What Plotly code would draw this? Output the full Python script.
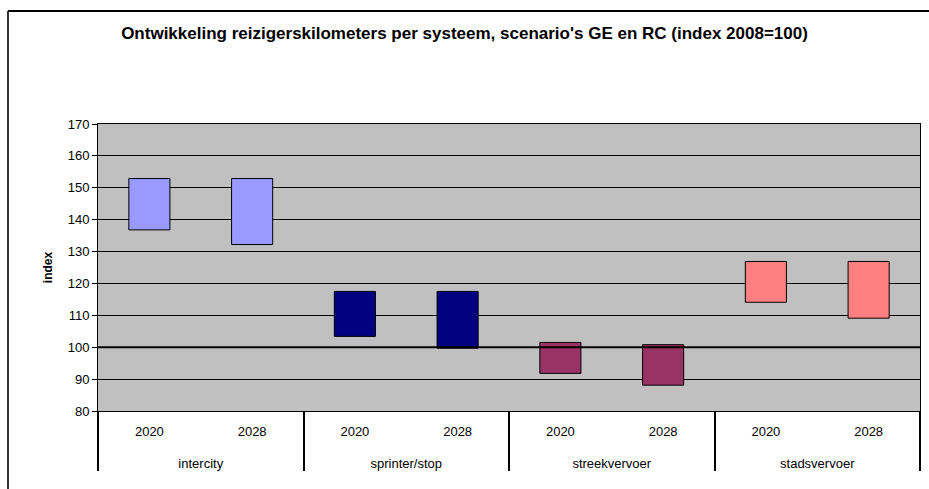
import plotly.graph_objects as go

systems = ["intercity", "intercity", "sprinter/stop", "sprinter/stop",
           "streekvervoer", "streekvervoer", "stadsvervoer", "stadsvervoer"]
years = ["2020", "2028", "2020", "2028", "2020", "2028", "2020", "2028"]
low_values = [136.8, 132.2, 103.4, 99.7, 91.8, 88.1, 114.1, 109.1]
high_values = [152.9, 152.9, 117.5, 117.5, 101.5, 100.8, 126.9, 126.9]
bar_colors = ["#9999FF", "#9999FF", "#000080", "#000080",
              "#993366", "#993366", "#FF8080", "#FF8080"]
y_ticks = [80, 90, 100, 110, 120, 130, 140, 150, 160, 170]

FONT = "Arial, Liberation Sans, sans-serif"

pad = "<span style='font-size:19px'>\u00a0</span>"

fig = go.Figure()
fig.add_trace(go.Bar(
    x=[["<br>" + s for s in systems], [pad + y + pad for y in years]],
    y=[h - l for h, l in zip(high_values, low_values)],
    base=low_values,
    marker=dict(color=bar_colors, line=dict(color="black", width=1)),
    hoverinfo="skip",
))

W, H = 929, 489
L, R, T, B = 98, 9, 124, 78
pw, ph = W - L - R, H - T - B

def px_x(p):
    return (p - L) / pw

def px_y(p):
    return (H - B - p) / ph

fig.update_layout(
    width=W, height=H,
    margin=dict(l=L, r=R, t=T, b=B),
    paper_bgcolor="white",
    plot_bgcolor="#C0C0C0",
    showlegend=False,
    bargap=0.6,
    font=dict(family=FONT, size=13, color="black"),
    title=dict(
        text="<b>Ontwikkeling reizigerskilometers per systeem, scenario's GE en RC (index 2008=100)</b>",
        x=0.5, xanchor="center", y=1 - 33 / H, yanchor="middle",
        font=dict(family=FONT, size=17, color="black"),
    ),
    xaxis=dict(
        type="multicategory",
        showline=True, linecolor="black", linewidth=1, mirror=True,
        showgrid=False,
        showdividers=True, dividercolor="black", dividerwidth=2,
        tickfont=dict(family=FONT, size=13, color="black"),
        ticks="",
        ticklabelstandoff=8,
    ),
    yaxis=dict(
        range=[80, 170],
        tickvals=y_ticks,
        showline=True, linecolor="black", linewidth=1, mirror=True,
        showgrid=True, gridcolor="black", gridwidth=1,
        ticks="outside", ticklen=5, tickcolor="black",
        zeroline=False,
        tickfont=dict(family=FONT, size=13, color="black"),
        title=dict(text="<b>index</b>", standoff=12,
                   font=dict(family=FONT, size=12, color="black")),
    ),
    shapes=[
        dict(type="line", xref="paper", yref="y", x0=0, x1=1, y0=100, y1=100,
             line=dict(color="black", width=2), layer="above"),
        dict(type="line", xref="paper", yref="paper",
             x0=px_x(8), x1=px_x(8), y0=px_y(11), y1=px_y(489),
             line=dict(color="#333333", width=2)),
        dict(type="line", xref="paper", yref="paper",
             x0=px_x(8), x1=px_x(929), y0=px_y(11), y1=px_y(11),
             line=dict(color="black", width=2)),
    ],
)

fig.write_html("out.html", config={"displayModeBar": False},
               post_script="document.body.style.margin='0';document.body.style.overflow='hidden';")
